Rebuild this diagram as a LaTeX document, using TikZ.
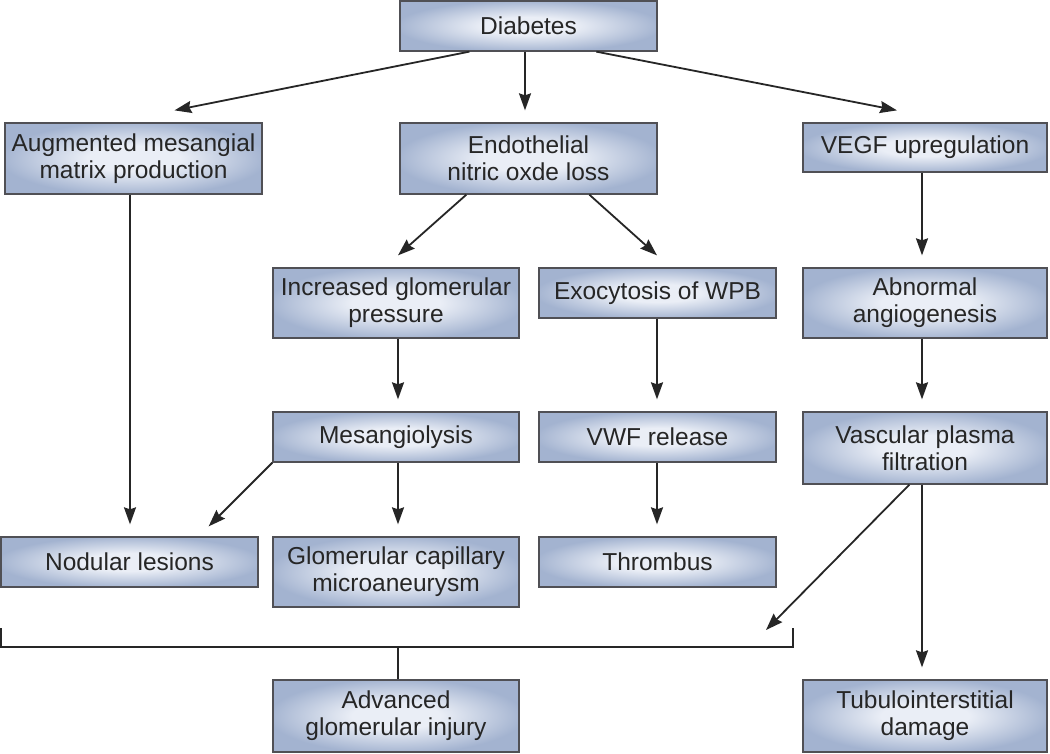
\documentclass[tikz,border=0pt]{standalone}
\usepackage{fontspec}
\setmainfont{Liberation Sans}
\usetikzlibrary{arrows.meta,calc}
\definecolor{boxin}{RGB}{234,238,246}
\definecolor{boxout}{RGB}{163,179,208}
\definecolor{boxline}{RGB}{80,80,85}
\pgfdeclareradialshading{boxshade}{\pgfpoint{0bp}{0bp}}{color(0bp)=(boxin); color(9bp)=(boxin); color(26bp)=(boxout); color(50bp)=(boxout)}
\tikzset{
  box/.style={draw=boxline, line width=1.3pt, shading=boxshade, shade, draw,
    inner sep=0pt, align=center, font=\fontsize{24.5}{27}\selectfont, text=black!85},
  arr/.style={line width=1.8pt, draw=black!85, -{Stealth[length=17pt,width=12pt,inset=2pt]}},
  ln/.style={line width=1.8pt, draw=black!85},
}
\begin{document}
\begin{tikzpicture}[x=1pt,y=-1pt]
\useasboundingbox (0,0) rectangle (1050,753);
\fill[white] (0,0) rectangle (1050,753);
\node[box, minimum width=257pt, minimum height=50pt] (diab) at (528.5,26) {Diabetes};
\node[box, minimum width=257pt, minimum height=71pt] (aug) at (133.5,158.5) {Augmented mesangial\\matrix production};
\node[box, minimum width=257pt, minimum height=71pt] (endo) at (528.5,158.5) {Endothelial\\nitric oxde loss};
\node[box, minimum width=244pt, minimum height=49pt] (vegf) at (925,147.5) {VEGF upregulation};
\node[box, minimum width=246pt, minimum height=70pt] (incr) at (396,303) {Increased glomerular\\pressure};
\node[box, minimum width=237pt, minimum height=50pt] (exo) at (657.5,293) {Exocytosis of WPB};
\node[box, minimum width=244pt, minimum height=70pt] (abn) at (925,303) {Abnormal\\angiogenesis};
\node[box, minimum width=246pt, minimum height=50pt] (mes) at (396,437) {Mesangiolysis};
\node[box, minimum width=237pt, minimum height=50pt] (vwf) at (657.5,437) {VWF release};
\node[box, minimum width=244pt, minimum height=72pt] (vasc) at (925,448) {Vascular plasma\\filtration};
\node[box, minimum width=257pt, minimum height=50pt] (nod) at (129.5,562) {Nodular lesions};
\node[box, minimum width=246pt, minimum height=70pt] (glom) at (396,572) {Glomerular capillary\\microaneurysm};
\node[box, minimum width=237pt, minimum height=50pt] (thr) at (657.5,562) {Thrombus};
\node[box, minimum width=246pt, minimum height=72pt] (adv) at (396,716) {Advanced\\glomerular injury};
\node[box, minimum width=244pt, minimum height=72pt] (tub) at (925,716) {Tubulointerstitial\\damage};
% bracket
\coordinate (bl) at (1,628);
\coordinate (br) at (793,628);
\coordinate (bm) at (398,647);
\coordinate (btip) at (766,630);
\draw[ln] (bl) |- (bm) -| (br);
\draw[ln] (bm) -- (adv.north -| bm);
% arrows
\draw[arr] ($(diab.south west)+(70,0)$) -- ($(aug.north)+(41,-12)$);
\draw[arr] (diab.south -| 525,0) -- ($(endo.north -| 525,0)+(0,-12)$);
\draw[arr] ($(diab.south west)+(197,0)$) -- ($(vegf.north)+(-28,-12)$);
\draw[arr] (aug.south -| 130,0) -- ($(nod.north -| 130,0)+(0,-12)$);
\draw[arr] ($(endo.south west)+(67,0)$) -- ($(incr.north)+(2,-12)$);
\draw[arr] ($(endo.south west)+(190,0)$) -- ($(exo.north -| 657,0)+(0,-12)$);
\draw[arr] (vegf.south -| 922,0) -- ($(abn.north -| 922,0)+(0,-12)$);
\draw[arr] (incr.south -| 398,0) -- ($(mes.north -| 398,0)+(0,-12)$);
\draw[arr] (exo.south -| 657,0) -- ($(vwf.north -| 657,0)+(0,-12)$);
\draw[arr] (abn.south -| 922,0) -- ($(vasc.north -| 922,0)+(0,-12)$);
\draw[arr] (mes.south west) -- ($(nod.north east)+(-50,-10)$);
\draw[arr] (mes.south -| 398,0) -- ($(glom.north -| 398,0)+(0,-12)$);
\draw[arr] (vwf.south -| 657,0) -- ($(thr.north -| 657,0)+(0,-12)$);
\draw[arr] ($(vasc.south west)+(107,0)$) -- (btip);
\draw[arr] (vasc.south -| 922,0) -- ($(tub.north -| 922,0)+(0,-12)$);
\end{tikzpicture}
\end{document}
